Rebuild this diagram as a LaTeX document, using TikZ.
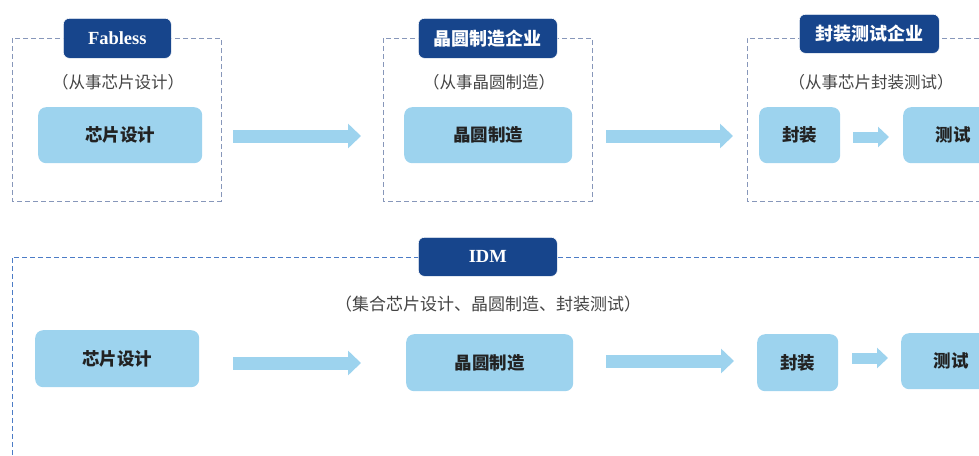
\documentclass[tikz,border=0pt]{standalone}
\usepackage{fontspec}
\setmainfont{Liberation Serif}
\newfontfamily\cjk{Noto Sans CJK SC}
\usetikzlibrary{arrows.meta}
\definecolor{lblue}{HTML}{9DD3EE}
\definecolor{dblue}{HTML}{17458C}
\definecolor{dash}{HTML}{8797BA}
\definecolor{dashb}{HTML}{4C7CC6}
\definecolor{txt}{HTML}{222222}
\definecolor{sub}{HTML}{444444}
\begin{document}
\begin{tikzpicture}[x=1pt,y=-1pt,
  stepbox/.style={fill=lblue,draw=none,rounded corners=8pt,text=txt,font=\cjk\bfseries\fontsize{17.5}{19}\selectfont,inner sep=0pt,anchor=north west},
  header/.style={fill=dblue,draw=white,line width=0.6pt,rounded corners=6pt,text=white,inner sep=0pt,anchor=north west},
  frame/.style={draw=dash,dash pattern=on 5pt off 3pt,line width=0.9pt},
  subt/.style={text=sub,font=\cjk\fontsize{16.5}{18}\selectfont,inner sep=0pt},
  bigarrow/.style={draw=lblue,line width=13pt,-{Triangle[length=13pt,width=24pt]}},
  smallarrow/.style={draw=lblue,line width=11pt,-{Triangle[length=11pt,width=20pt]}}
]
\useasboundingbox (0,0) rectangle (979,455);
% ---------- top row frames ----------
\draw[frame] (12,38) rectangle (221,201);
\draw[frame] (383,38) rectangle (592,201);
\draw[frame] (979,38) -- (747,38) -- (747,201) -- (979,201);
% headers
\node[header,minimum width=108pt,minimum height=40pt] (hfab) at (63,18) {\fontsize{18.5}{20}\selectfont\bfseries Fabless};
\node[header,minimum width=139pt,minimum height=40pt] (hfoundry) at (418,18) {\cjk\bfseries\fontsize{18}{20}\selectfont 晶圆制造企业};
\node[header,minimum width=140pt,minimum height=39pt] (hosat) at (799,14) {\cjk\bfseries\fontsize{18}{20}\selectfont 封装测试企业};
% subtitles
\node[subt] (sfab) at (118,82) {（从事芯片设计）};
\node[subt] (sfoundry) at (489,82) {（从事晶圆制造）};
\node[subt] (sosat) at (871,82) {（从事芯片封装测试）};
% boxes
\node[stepbox,minimum width=164pt,minimum height=56pt] (t1) at (38,107) {芯片设计};
\node[stepbox,minimum width=168pt,minimum height=56pt] (t2) at (404,107) {晶圆制造};
\node[stepbox,minimum width=81pt,minimum height=56pt] (t3) at (759,107) {封装};
\node[stepbox,minimum width=100pt,minimum height=56pt] (t4) at (903,107) {测试};
% arrows
\coordinate (a1s) at (233,136); \coordinate (a1e) at (361,136);
\coordinate (a2s) at (606,136); \coordinate (a2e) at (733,136);
\coordinate (a3s) at (853,137); \coordinate (a3e) at (889,137);
\draw[bigarrow] (a1s) -- (a1e);
\draw[bigarrow] (a2s) -- (a2e);
\draw[smallarrow] (a3s) -- (a3e);
% ---------- bottom (IDM) ----------
\draw[frame,draw=dashb] (12,455) -- (12,257) -- (979,257);
\node[header,minimum width=139pt,minimum height=39pt] (hidm) at (418,237) {\fontsize{18.5}{20}\selectfont\bfseries IDM};
\node[subt,font=\cjk\fontsize{17}{19}\selectfont] (sidm) at (488,304) {（集合芯片设计、晶圆制造、封装测试）};
\node[stepbox,minimum width=164pt,minimum height=57pt] (b1) at (35,330) {芯片设计};
\node[stepbox,minimum width=167pt,minimum height=57pt] (b2) at (406,334) {晶圆制造};
\node[stepbox,minimum width=81pt,minimum height=57pt] (b3) at (757,334) {封装};
\node[stepbox,minimum width=100pt,minimum height=56pt] (b4) at (901,333) {测试};
\coordinate (c1s) at (233,363); \coordinate (c1e) at (361,363);
\coordinate (c2s) at (606,361); \coordinate (c2e) at (734,361);
\coordinate (c3s) at (852,358); \coordinate (c3e) at (888,358);
\draw[bigarrow] (c1s) -- (c1e);
\draw[bigarrow] (c2s) -- (c2e);
\draw[smallarrow] (c3s) -- (c3e);
\end{tikzpicture}
\end{document}
